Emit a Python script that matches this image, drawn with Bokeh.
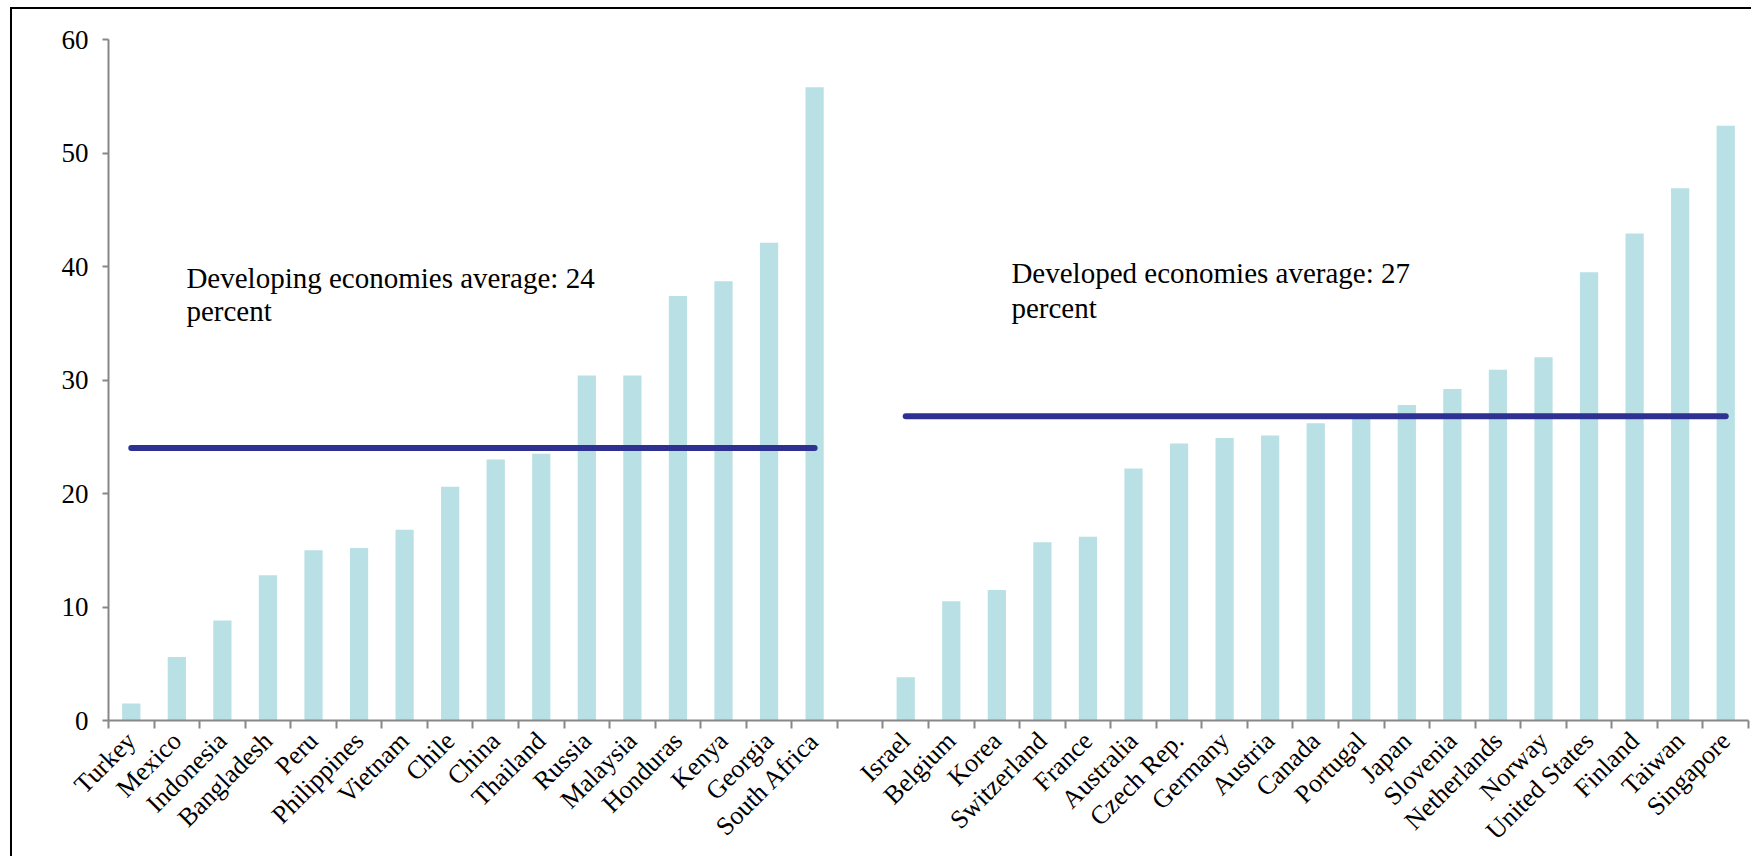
import math
from bokeh.plotting import figure
from bokeh.models import FixedTicker, Label, Range1d, ColumnDataSource
from bokeh.embed import file_html
from bokeh.resources import INLINE

# ---------------- data ----------------
developing = ["Turkey", "Mexico", "Indonesia", "Bangladesh", "Peru", "Philippines",
              "Vietnam", "Chile", "China", "Thailand", "Russia", "Malaysia",
              "Honduras", "Kenya", "Georgia", "South Africa"]
developing_values = [1.5, 5.6, 8.8, 12.8, 15.0, 15.2, 16.8, 20.6, 23.0, 23.5,
                     30.4, 30.4, 37.4, 38.7, 42.1, 55.8]

developed = ["Israel", "Belgium", "Korea", "Switzerland", "France", "Australia",
             "Czech Rep.", "Germany", "Austria", "Canada", "Portugal", "Japan",
             "Slovenia", "Netherlands", "Norway", "United States", "Finland",
             "Taiwan", "Singapore"]
developed_values = [3.8, 10.5, 11.5, 15.7, 16.2, 22.2, 24.4, 24.9, 25.1, 26.2,
                    26.6, 27.8, 29.2, 30.9, 32.0, 39.5, 42.9, 46.9, 52.4]

avg_developing = 24.0
avg_developed = 26.8
avg_developing_text = ["Developing economies average: 24", "percent"]
avg_developed_text = ["Developed  economies average: 27", "percent"]
y_ticks = [0, 10, 20, 30, 40, 50, 60]

# ---------------- layout helpers ----------------
gap = 1
dev_x = list(range(len(developing)))
dvd_start = len(developing) + gap
dvd_x = [dvd_start + i for i in range(len(developed))]
n_slots = len(developing) + gap + len(developed)

BAR = "#B9E0E4"
LINE = "#2E3192"
AXIS = "#878787"
FONT = "Liberation Serif"

p = figure(width=1741, height=849, output_backend="svg", toolbar_location=None,
           x_range=Range1d(-0.5, n_slots - 0.5), y_range=Range1d(0, 60),
           min_border_left=96, min_border_right=5, min_border_top=30,
           min_border_bottom=138)
p.styles = {"border-top": "2px solid black", "border-left": "2px solid black",
            "margin-left": "10px", "margin-top": "7px"}
p.outline_line_color = None
p.xgrid.grid_line_color = None
p.ygrid.grid_line_color = None
p.background_fill_color = "white"
p.border_fill_color = "white"

src = ColumnDataSource(dict(x=dev_x + dvd_x, top=developing_values + developed_values))
p.vbar(x="x", top="top", width=0.4, source=src, fill_color=BAR, line_color=None)

p.line(x=[dev_x[0], dev_x[-1]], y=[avg_developing, avg_developing],
       line_color=LINE, line_width=6, line_cap="round")
p.line(x=[dvd_x[0], dvd_x[-1]], y=[avg_developed, avg_developed],
       line_color=LINE, line_width=6, line_cap="round")

# x axis: names at the bars, tick marks between categories
xa = p.xaxis[0]
xa.ticker = FixedTicker(ticks=dev_x + dvd_x,
                        minor_ticks=[i - 0.5 for i in range(n_slots + 1)])
xa.major_label_overrides = {x: name for x, name in zip(dev_x + dvd_x, developing + developed)}
xa.major_label_orientation = math.pi / 4
xa.major_tick_line_color = None
xa.major_tick_out = 0
xa.major_tick_in = 0
xa.minor_tick_line_color = AXIS
xa.minor_tick_line_width = 2
xa.minor_tick_out = 8
xa.minor_tick_in = 0
xa.axis_line_color = AXIS
xa.axis_line_width = 2
xa.major_label_text_font = FONT
xa.major_label_text_font_size = "26px"
xa.major_label_text_color = "black"
xa.major_label_standoff = 8

# y axis
ya = p.yaxis[0]
ya.ticker = FixedTicker(ticks=y_ticks)
ya.axis_line_color = AXIS
ya.axis_line_width = 2
ya.major_tick_line_color = AXIS
ya.major_tick_line_width = 2
ya.major_tick_out = 6
ya.major_tick_in = 0
ya.minor_tick_line_color = None
ya.major_label_text_font = FONT
ya.major_label_text_font_size = "27px"
ya.major_label_text_color = "black"
ya.major_label_standoff = 14

# annotations
for (tx, ty, txt) in [(1.21, 38.97, avg_developing_text[0]), (1.21, 36.07, avg_developing_text[1]),
                      (19.32, 39.41, avg_developed_text[0]), (19.32, 36.33, avg_developed_text[1])]:
    p.add_layout(Label(x=tx, y=ty, text=txt, text_font=FONT, text_font_size="29px",
                       text_color="black", text_baseline="alphabetic", text_align="left"))

open("out.html", "w").write(file_html(p, INLINE))
